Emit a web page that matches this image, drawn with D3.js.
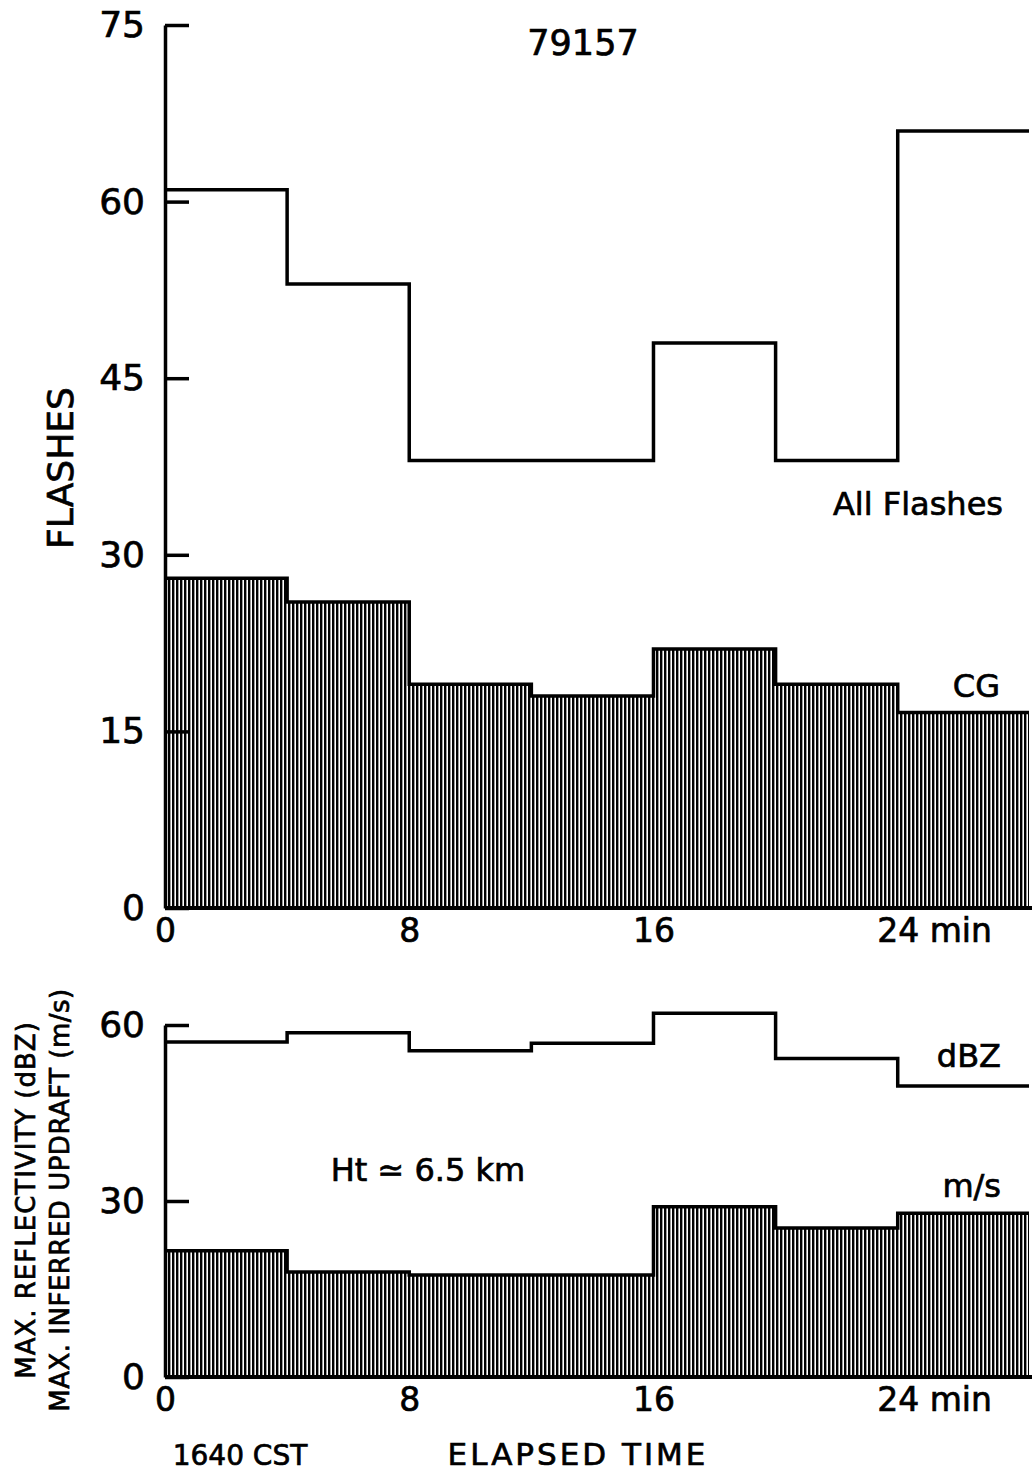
<!DOCTYPE html>
<html>
<head>
<meta charset="utf-8">
<script src="https://cdn.jsdelivr.net/npm/d3@7"></script>
<style>
  body { margin: 0; background: #fff; }
  svg text { font-family: "DejaVu Sans", sans-serif; fill: #000; stroke: #000; stroke-width: 0.7px; }
</style>
</head>
<body>
<div id="chart"></div>
<script>
// bin starts (minutes); each bin is 4 min wide, last bin runs off the page
const binStart = [0, 4, 8, 12, 16, 20, 24];
const tEnd = 28.3;
const allFlashes = [61, 53, 38, 38, 48, 38, 66];
const cgFlashes = [28, 26, 19, 18, 22, 19, 16.6];
const dbz = [57.1, 58.7, 55.6, 56.9, 62, 54.3, 49.6];
const updraft = [21.5, 17.9, 17.4, 17.4, 29, 25.4, 27.9];
const topTicks = [0, 15, 30, 45, 60, 75];
const botTicks = [0, 30, 60];
const timeTicks = [0, 8, 16, 24];

const W = 1032, H = 1471;
const svg = d3.select("#chart").append("svg")
  .attr("width", W).attr("height", H);

svg.append("defs").append("pattern")
  .attr("id", "hatch")
  .attr("patternUnits", "userSpaceOnUse")
  .attr("width", 4).attr("height", 4)
  .append("rect")
  .attr("x", 0).attr("y", 0)
  .attr("width", 2.4).attr("height", 4)
  .attr("fill", "#000");

const x = d3.scaleLinear().domain([0, tEnd]).range([165, 1029]);
const yTop = d3.scaleLinear().domain([0, 75]).range([908, 25]);
const yBot = d3.scaleLinear().domain([0, 60]).range([1377, 1025]);

function steps(vals) {
  const pts = binStart.map((t, i) => [t, vals[i]]);
  pts.push([tEnd, vals[vals.length - 1]]);
  return pts;
}

function drawPanel(y, lineVals, fillVals, ticks) {
  const area = d3.area()
    .curve(d3.curveStepAfter)
    .x(d => x(d[0])).y0(y(0)).y1(d => y(d[1]));
  const line = d3.line()
    .curve(d3.curveStepAfter)
    .x(d => x(d[0])).y(d => y(d[1]));

  svg.append("path")
    .attr("d", area(steps(fillVals)))
    .attr("fill", "url(#hatch)");
  svg.append("path")
    .attr("d", line(steps(fillVals)))
    .attr("fill", "none").attr("stroke", "#000").attr("stroke-width", 3.5);
  svg.append("path")
    .attr("d", line(steps(lineVals)))
    .attr("fill", "none").attr("stroke", "#000").attr("stroke-width", 3.5);

  const ya = svg.append("g")
    .attr("transform", "translate(165,0)")
    .call(d3.axisLeft(y).tickValues(ticks).tickSizeInner(-24).tickSizeOuter(0).tickPadding(20));
  ya.select(".domain").attr("stroke-width", 3.5);
  ya.selectAll(".tick line").attr("stroke-width", 3.5);
  ya.selectAll(".tick text").attr("font-size", 36).attr("font-family", "DejaVu Sans");

  svg.append("line")
    .attr("x1", x(0)).attr("x2", W)
    .attr("y1", y(0)).attr("y2", y(0))
    .attr("stroke", "#000").attr("stroke-width", 4);

  const xa = svg.append("g")
    .attr("transform", "translate(0," + y(0) + ")")
    .call(d3.axisBottom(x).tickValues(timeTicks).tickSize(0).tickPadding(11)
      .tickFormat(d => d === 24 ? "24 min" : d));
  xa.select(".domain").remove();
  xa.selectAll(".tick text").attr("font-size", 33).attr("font-family", "DejaVu Sans")
    .filter(d => d === 24).attr("text-anchor", "start").attr("dx", -21);
}

drawPanel(yTop, allFlashes, cgFlashes, topTicks);
drawPanel(yBot, dbz, updraft, botTicks);

svg.append("text").attr("x", 583).attr("y", 55)
  .attr("text-anchor", "middle").attr("font-size", 35).text("79157");

svg.append("text")
  .attr("transform", "translate(73,468) rotate(-90)")
  .attr("text-anchor", "middle").attr("font-size", 36).text("FLASHES");

svg.append("text").attr("x", 1003).attr("y", 515)
  .attr("text-anchor", "end").attr("font-size", 32).text("All Flashes");
svg.append("text").attr("x", 1000).attr("y", 697)
  .attr("text-anchor", "end").attr("font-size", 32).text("CG");
svg.append("text").attr("x", 1001).attr("y", 1067)
  .attr("text-anchor", "end").attr("font-size", 32).text("dBZ");
svg.append("text").attr("x", 1001).attr("y", 1197)
  .attr("text-anchor", "end").attr("font-size", 32).text("m/s");
svg.append("text").attr("x", 428).attr("y", 1181)
  .attr("text-anchor", "middle").attr("font-size", 32).text("Ht \u2243 6.5 km");

svg.append("text")
  .attr("transform", "translate(35,1200) rotate(-90)")
  .attr("text-anchor", "middle").attr("font-size", 26).attr("letter-spacing", 1).text("MAX. REFLECTIVITY (dBZ)");
svg.append("text")
  .attr("transform", "translate(69,1200) rotate(-90)")
  .attr("text-anchor", "middle").attr("font-size", 26).attr("letter-spacing", 0.5).text("MAX. INFERRED UPDRAFT (m/s)");

svg.append("text").attr("x", 240).attr("y", 1465)
  .attr("text-anchor", "middle").attr("font-size", 28).text("1640 CST");
svg.append("text").attr("x", 578).attr("y", 1465)
  .attr("text-anchor", "middle").attr("font-size", 31).attr("letter-spacing", 3).text("ELAPSED TIME");
</script>
</body>
</html>
